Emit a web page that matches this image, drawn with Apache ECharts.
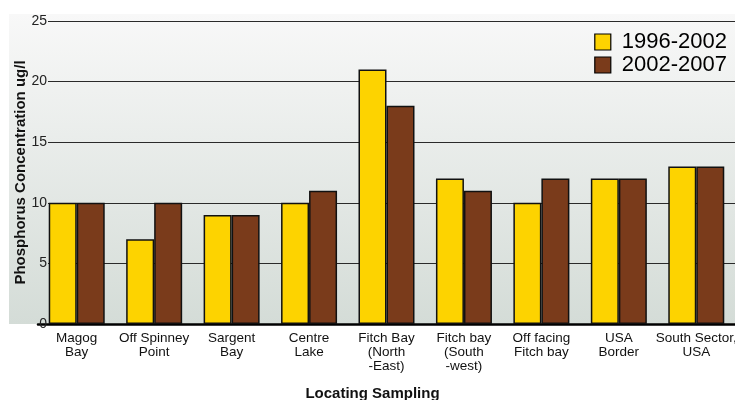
<!DOCTYPE html>
<html>
<head>
<meta charset="utf-8">
<script src="https://cdn.jsdelivr.net/npm/echarts@6/dist/echarts.min.js"></script>
<style>
  html, body { margin: 0; padding: 0; background: #fff; }
  #chart { width: 735px; height: 400px; }
</style>
</head>
<body>
<div id="chart"></div>
<script>
  // data
  var sites = ['Magog\nBay', 'Off Spinney\nPoint', 'Sargent\nBay', 'Centre\nLake',
    'Fitch Bay\n(North\n-East)', 'Fitch bay\n(South\n-west)', 'Off facing\nFitch bay',
    'USA\nBorder', 'South Sector,\nUSA'];
  var period1 = [10, 7, 9, 10, 21, 12, 10, 12, 13];   // 1996-2002
  var period2 = [10, 10, 9, 11, 18, 11, 12, 12, 13];  // 2002-2007
  var seriesNames = ['1996-2002', '2002-2007'];

  var chart = echarts.init(document.getElementById('chart'));
  var sans = "'Liberation Sans', Arial, sans-serif";

  var option = {
    animation: false,
    graphic: [{
      type: 'rect',
      z: -10,
      left: 9, top: 14,
      shape: { width: 726, height: 310 },
      style: {
        fill: new echarts.graphic.LinearGradient(0, 0, 0, 1, [
          { offset: 0, color: '#f8f8f8' },
          { offset: 1, color: '#d4dcd7' }
        ])
      }
    }],
    legend: {
      orient: 'vertical',
      right: 8,
      top: 31,
      padding: 0,
      itemWidth: 16,
      itemHeight: 16,
      itemGap: 1,
      icon: 'rect',
      itemStyle: { borderColor: '#000', borderWidth: 1.2 },
      textStyle: { fontFamily: sans, fontSize: 22, color: '#000', padding: [0, 0, 0, 6] },
      data: seriesNames
    },
    grid: [
      { left: 38, right: 0, top: 21, bottom: 76, outerBoundsMode: 'none' },
      { left: 48, right: 0, top: 21, bottom: 76, outerBoundsMode: 'none' }
    ],
    xAxis: [{
      type: 'category',
      gridIndex: 0,
      data: sites,
      axisLine: { lineStyle: { color: '#000', width: 2.5 } },
      axisTick: { show: false },
      axisLabel: {
        interval: 0,
        margin: 7,
        fontFamily: sans,
        fontSize: 13.5,
        lineHeight: 14,
        color: '#111'
      },
      name: 'Locating Sampling',
      nameLocation: 'middle',
      nameGap: 62,
      nameTextStyle: { fontFamily: sans, fontWeight: 'bold', fontSize: 15, color: '#111', padding: [0, 28, 0, 0] }
    }, {
      type: 'value',
      gridIndex: 1,
      show: false
    }],
    yAxis: [{
      type: 'value',
      gridIndex: 0,
      min: 0, max: 25, interval: 5,
      axisLine: { show: false },
      axisTick: { show: false },
      axisLabel: { show: false },
      splitLine: { show: false },
      name: 'Phosphorus Concentration ug/l',
      nameLocation: 'middle',
      nameGap: 10,
      nameTextStyle: { fontFamily: sans, fontWeight: 'bold', fontSize: 15, color: '#111' }
    }, {
      type: 'value',
      gridIndex: 1,
      min: 0, max: 25, interval: 5,
      axisLine: { show: false },
      axisTick: { show: false },
      axisLabel: { margin: 1, fontFamily: sans, fontSize: 14, color: '#222' },
      splitLine: { lineStyle: { color: '#2a2a2a', width: 1.2 } }
    }],
    series: [{
      name: seriesNames[0],
      type: 'bar',
      xAxisIndex: 0, yAxisIndex: 0,
      data: period1,
      barWidth: 28,
      barGap: '0%',
      itemStyle: { color: '#fdd300', borderColor: '#111', borderWidth: 1.5 }
    }, {
      name: seriesNames[1],
      type: 'bar',
      xAxisIndex: 0, yAxisIndex: 0,
      data: period2,
      barWidth: 28,
      barGap: '0%',
      itemStyle: { color: '#7a3b1b', borderColor: '#111', borderWidth: 1.5 }
    }]
  };
  chart.setOption(option);
</script>
</body>
</html>
